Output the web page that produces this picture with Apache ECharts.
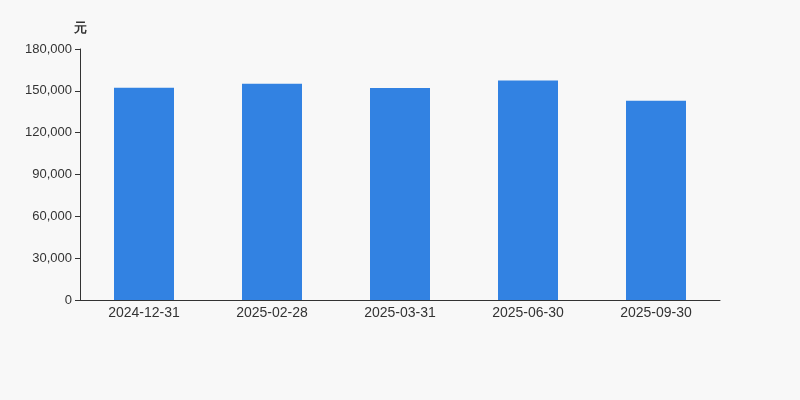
<!DOCTYPE html>
<html>
<head>
<meta charset="utf-8">
<script src="https://cdn.jsdelivr.net/npm/echarts@6/dist/echarts.min.js"></script>
<style>html,body{margin:0;padding:0;background:#f8f8f8;}#c{width:800px;height:400px;}</style>
</head>
<body>
<div id="c"></div>
<script>
var categories = ['2024-12-31', '2025-02-28', '2025-03-31', '2025-06-30', '2025-09-30'];
var values = [152300, 155100, 152100, 157400, 142900];
var unitName = '元';

var chart = echarts.init(document.getElementById('c'));
chart.setOption({
  backgroundColor: '#f8f8f8',
  animation: false,
  grid: { left: 80, right: 80, top: 49, bottom: 100 },
  xAxis: {
    type: 'category',
    data: categories,
    axisLine: { lineStyle: { color: '#333' } },
    axisTick: { lineStyle: { color: '#333' } },
    axisLabel: { color: '#333', fontSize: 14, margin: 6, fontFamily: 'Liberation Sans, Arial, sans-serif' }
  },
  yAxis: {
    type: 'value',
    name: unitName,
    nameGap: 14,
    nameTextStyle: { color: '#333', fontWeight: 'bold', fontSize: 13, align: 'center' },
    min: 0, max: 180000, interval: 30000,
    axisLine: { show: true, lineStyle: { color: '#333' } },
    axisTick: { show: true, lineStyle: { color: '#333' } },
    splitLine: { show: false },
    axisLabel: { color: '#333', fontSize: 13, fontFamily: 'Liberation Sans, Arial, sans-serif',
      formatter: function (v) { return v.toLocaleString('en-US'); } }
  },
  series: [{
    type: 'bar',
    data: values,
    barWidth: 60,
    itemStyle: { color: '#3282e2' }
  }]
});
</script>
</body>
</html>
